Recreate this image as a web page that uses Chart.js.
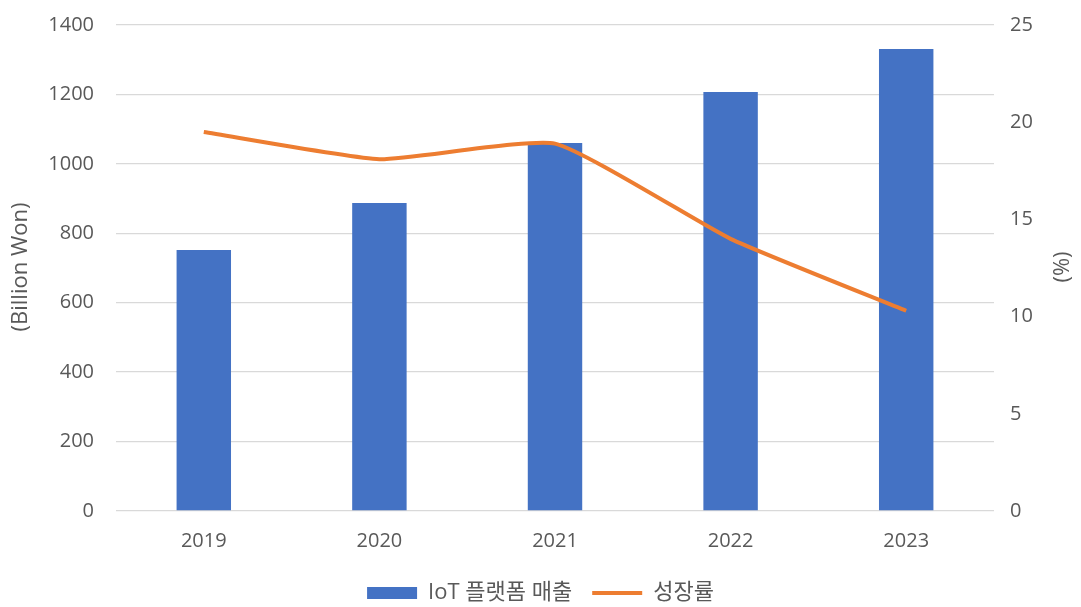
<!DOCTYPE html>
<html>
<head>
<meta charset="utf-8">
<script src="https://cdn.jsdelivr.net/npm/chart.js@4/dist/chart.umd.min.js"></script>
<style>
  html, body { margin: 0; padding: 0; background: #fff; }
  #wrap { width: 1081px; height: 607px; }
</style>
</head>
<body>
<div id="wrap"><canvas id="grafico"></canvas></div>
<script>
const years = ['2019', '2020', '2021', '2022', '2023'];
const ventas = [752, 887, 1060, 1207, 1331];
const crecimiento = [19.5, 18.1, 18.9, 14.0, 10.3];
const ticksIzq = [0, 200, 400, 600, 800, 1000, 1200, 1400];
const ticksDer = [0, 5, 10, 15, 20, 25];

const fuente = "'Open Sans', 'Noto Sans CJK KR', sans-serif";
const gris = '#595959';

Chart.defaults.font.family = fuente;
Chart.defaults.color = gris;

/* titulos de los ejes, rotados */
const titulosEjes = {
    id: 'titulosEjes',
    afterDraw(chart) {
        const ctx = chart.ctx;
        const titulo = (texto, x, y) => {
            ctx.save();
            ctx.fillStyle = gris;
            ctx.font = '22px ' + fuente;
            ctx.textAlign = 'center';
            ctx.textBaseline = 'middle';
            ctx.translate(x, y);
            ctx.rotate(-Math.PI / 2);
            ctx.fillText(texto, 0, 0);
            ctx.restore();
        };
        titulo('(Billion Won)', 21, 267);
        titulo('(%)', 1063, 267);
    }
};

/* ancho y alto fijos de los ejes, sin relleno extra */
const fijar = (ancho, alto) => s => {
    if (ancho) s.width = ancho;
    if (alto) s.height = alto;
    s.paddingTop = 0;
    s.paddingBottom = 0;
    s.paddingLeft = 0;
    s.paddingRight = 0;
};

const grafico = document.getElementById('grafico').getContext('2d');

new Chart(grafico, {
    data: {
        labels: years,
        datasets: [{
            type: 'bar',
            label: 'IoT 플랫폼 매출',
            data: ventas,
            backgroundColor: '#4472C4',
            borderWidth: 0,
            pointStyle: 'rect',
            categoryPercentage: 1,
            barPercentage: 0.31,
            yAxisID: 'y',
            order: 2
        }, {
            type: 'line',
            label: '성장률',
            data: crecimiento,
            borderColor: '#ED7D31',
            backgroundColor: '#ED7D31',
            borderWidth: 4,
            pointRadius: 0,
            pointStyle: 'line',
            tension: 0.15,
            yAxisID: 'y1',
            order: 1
        }]
    },
    options: {
        responsive: true,
        maintainAspectRatio: false,
        animation: false,
        layout: {
            padding: { top: 25, left: 0, right: 0, bottom: -7 }
        },
        plugins: {
            tooltip: { enabled: false },
            legend: {
                position: 'bottom',
                labels: {
                    usePointStyle: true,
                    pointStyleWidth: 50,
                    boxHeight: 12,
                    padding: 20,
                    color: gris,
                    font: { size: 22 },
                    sort: (a, b) => a.datasetIndex - b.datasetIndex
                }
            }
        },
        scales: {
            x: {
                grid: { display: false, drawTicks: false },
                border: { display: false },
                ticks: {
                    padding: 18,
                    font: { size: 20 }
                },
                afterFit: fijar(0, 51)
            },
            y: {
                position: 'left',
                min: 0,
                max: 1400,
                afterBuildTicks: s => { s.ticks = ticksIzq.map(v => ({ value: v })); },
                grid: {
                    color: '#D9D9D9',
                    lineWidth: 1.3,
                    drawTicks: false
                },
                border: { display: false },
                ticks: {
                    padding: 22,
                    font: { size: 20 },
                    callback: v => String(v)
                },
                afterFit: fijar(116, 0)
            },
            y1: {
                position: 'right',
                min: 0,
                max: 25,
                afterBuildTicks: s => { s.ticks = ticksDer.map(v => ({ value: v })); },
                grid: { display: false, drawTicks: false },
                border: { display: false },
                ticks: {
                    padding: 16,
                    font: { size: 20 },
                    callback: v => String(v)
                },
                afterFit: fijar(87, 0)
            }
        }
    },
    plugins: [titulosEjes]
});
</script>
</body>
</html>
